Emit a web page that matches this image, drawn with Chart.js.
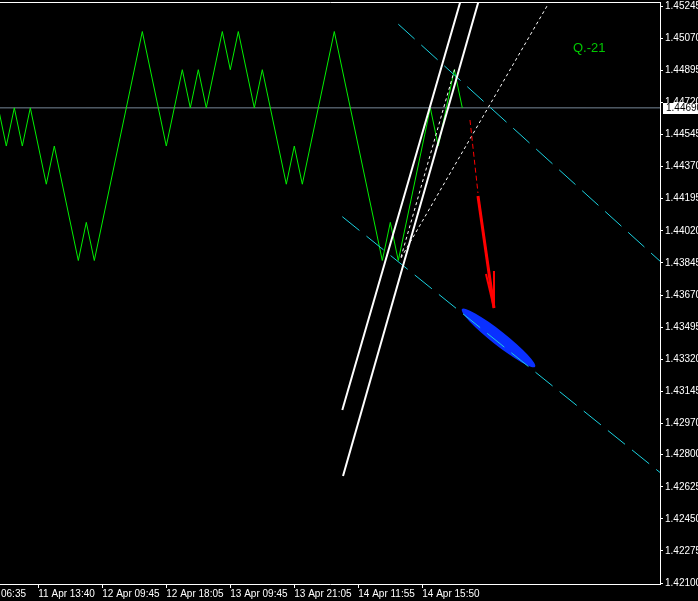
<!DOCTYPE html>
<html>
<head>
<meta charset="utf-8">
<script src="https://cdn.jsdelivr.net/npm/chart.js@4.4.1/dist/chart.umd.min.js"></script>
<style>
  html, body { margin: 0; padding: 0; background: #000; }
  #wrap { width: 698px; height: 601px; }
</style>
</head>
<body>
<div id="wrap"><canvas id="chart" width="698" height="601"></canvas></div>
<script>
// renko closes (bar index / price), only the turning points
var greenBars = [0, 1, 2, 3, 4, 6, 7, 10, 11, 12, 18, 21, 23, 24, 25, 26, 28, 29, 30, 32, 33, 36, 37, 38, 42, 48, 49, 50, 54, 55, 57, 58];
var greenClose = [1.44690, 1.44482, 1.44690, 1.44482, 1.44690, 1.44274, 1.44482, 1.43858, 1.44066, 1.43858,
  1.45106, 1.44482, 1.44898, 1.44690, 1.44898, 1.44690, 1.45106, 1.44898, 1.45106, 1.44690,
  1.44898, 1.44274, 1.44482, 1.44274, 1.45106, 1.43858, 1.44066, 1.43858, 1.44690, 1.44482,
  1.44898, 1.44690];
var bidPrice = 1.44690;

var priceTicks = [1.42100, 1.42275, 1.42450, 1.42625, 1.42800, 1.42970, 1.43145, 1.43320, 1.43495, 1.43670,
  1.43845, 1.44020, 1.44195, 1.44370, 1.44545, 1.44720, 1.44895, 1.45070, 1.45245];
var timeTickBars = [-3.6, 5, 13, 21, 29, 37, 45, 53];
var timeTickLabels = ["11 Apr 06:35", "11 Apr 13:40", "12 Apr 09:45", "12 Apr 18:05", "13 Apr 09:45", "13 Apr 21:05", "14 Apr 11:55", "14 Apr 15:50"];
var xRange = [0.2125, 82.7125];
var yRange = [1.42095, 1.45267];

// drawn objects: [bar, price] end points
var upperChannelX = [50.0, 90], upperChannelY = [1.45146, 1.43567];
var lowerChannelX = [43.0, 90], lowerChannelY = [1.44097, 1.42447];
var leftRayX = [43.0, 58.54], leftRayY = [1.43043, 1.45387];
var rightRayX = [43.09, 60.79], rightRayY = [1.42684, 1.45387];
var steepDotX = [50.34, 57.09], steepDotY = [1.43877, 1.44907];
var flatDotX = [50.34, 68.59], flatDotY = [1.43872, 1.45245];
var arrowDashX = [58.96, 59.96], arrowDashY = [1.44624, 1.44226];
var arrowShaftX = [59.96, 61.96], arrowShaftY = [1.44210, 1.43599];
var barbLeftX = [60.96, 61.96], barbLeftY = [1.43785, 1.43599];
var barbRightX = [61.96, 61.96], barbRightY = [1.43801, 1.43599];
var ellipseX = [57.93, 66.875], ellipseY = [1.43579, 1.43271];
var label = "Q.-21";

var FONT = "Liberation Sans";

function seg(xs, ys, color, width, dash, order) {
  return {
    data: xs.map(function (x, i) { return { x: x, y: ys[i] }; }),
    borderColor: color,
    borderWidth: width,
    borderDash: dash || [],
    pointRadius: 0,
    tension: 0,
    fill: false,
    clip: 0,
    order: order,
  };
}

var extras = {
  id: "extras",
  beforeDatasetsDraw: function (chart) {
    var c = chart.ctx, xs = chart.scales.x, ys = chart.scales.y;
    var x1 = xs.getPixelForValue(ellipseX[0]), y1 = ys.getPixelForValue(ellipseY[0]);
    var x2 = xs.getPixelForValue(ellipseX[1]), y2 = ys.getPixelForValue(ellipseY[1]);
    var len = Math.hypot(x2 - x1, y2 - y1);
    c.save();
    c.fillStyle = "#0a30ff";
    c.beginPath();
    c.ellipse((x1 + x2) / 2 + 1, (y1 + y2) / 2 - 2, len / 2 + 1, 7, Math.atan2(y2 - y1, x2 - x1), 0, Math.PI * 2);
    c.fill();
    c.restore();
  },
  afterDraw: function (chart) {
    var c = chart.ctx, a = chart.chartArea, ys = chart.scales.y;
    c.save();
    // top frame
    c.strokeStyle = "#fff";
    c.lineWidth = 1;
    c.beginPath();
    c.moveTo(a.left, a.top + 0.5);
    c.lineTo(a.right + 1, a.top + 0.5);
    c.stroke();
    // bid box
    var y = Math.round(ys.getPixelForValue(bidPrice));
    c.fillStyle = "#fff";
    c.fillRect(a.right + 3, y - 5, 38, 11);
    c.fillStyle = "#000";
    c.font = "10px '" + FONT + "'";
    c.textBaseline = "middle";
    c.fillText(bidPrice.toFixed(5), a.right + 6, y + 0.5);
    // label
    c.fillStyle = "#00c800";
    c.font = "13px '" + FONT + "'";
    c.textBaseline = "alphabetic";
    c.fillText(label, a.right - 87, 52);
    c.restore();
  },
};

new Chart(document.getElementById("chart"), {
  type: "line",
  data: {
    datasets: [
      seg(arrowShaftX, arrowShaftY, "#ff0000", 3, null, 0),
      seg(barbLeftX, barbLeftY, "#ff0000", 2, null, 0),
      seg(barbRightX, barbRightY, "#ff0000", 2, null, 0),
      seg(arrowDashX, arrowDashY, "#ff0000", 1, [5, 3], 0),
      seg(leftRayX, leftRayY, "#ffffff", 2, null, 1),
      seg(rightRayX, rightRayY, "#ffffff", 2, null, 1),
      seg(steepDotX, steepDotY, "#ffffff", 1, [3, 3], 2),
      seg(flatDotX, flatDotY, "#ffffff", 1, [3, 3], 2),
      seg(upperChannelX, upperChannelY, "#1ad2e0", 1, [22, 9], 3),
      seg(lowerChannelX, lowerChannelY, "#1ad2e0", 1, [22, 9], 3),
      seg(greenBars, greenClose, "#00f000", 1, null, 4),
      seg(xRange, [bidPrice, bidPrice], "#778899", 1, null, 5),
    ],
  },
  options: {
    responsive: false,
    animation: false,
    events: [],
    layout: { padding: { top: 2, left: 0, right: 0, bottom: 0 } },
    plugins: { legend: { display: false }, tooltip: { enabled: false } },
    scales: {
      x: {
        type: "linear",
        position: "bottom",
        min: xRange[0],
        max: xRange[1],
        grid: { drawOnChartArea: false, drawTicks: true, tickLength: 4, color: "#fff", tickColor: "#fff" },
        border: { display: true, color: "#fff", width: 1 },
        ticks: {
          color: "#fff",
          font: { family: FONT, size: 10 },
          align: "start",
          padding: 0,
          autoSkip: false,
          maxRotation: 0,
          minRotation: 0,
          callback: function (v, i) { return timeTickLabels[i]; },
        },
        afterBuildTicks: function (s) {
          s.ticks = timeTickBars.map(function (v) { return { value: v }; });
        },
        afterFit: function (s) {
          s.height = 17;
          s.paddingLeft = 0;
          s.paddingRight = 0;
        },
      },
      y: {
        type: "linear",
        position: "right",
        min: yRange[0],
        max: yRange[1],
        grid: { drawOnChartArea: false, drawTicks: true, tickLength: 3, color: "#fff", tickColor: "#fff" },
        border: { display: true, color: "#fff", width: 1 },
        ticks: {
          color: "#fff",
          font: { family: FONT, size: 10 },
          padding: 2,
          autoSkip: false,
          callback: function (v) { return v.toFixed(5); },
        },
        afterBuildTicks: function (s) {
          s.ticks = priceTicks.map(function (v) { return { value: v }; });
        },
        afterFit: function (s) {
          s.width = 38;
          s.paddingTop = 0;
          s.paddingBottom = 0;
        },
      },
    },
  },
  plugins: [extras],
});
</script>
</body>
</html>
